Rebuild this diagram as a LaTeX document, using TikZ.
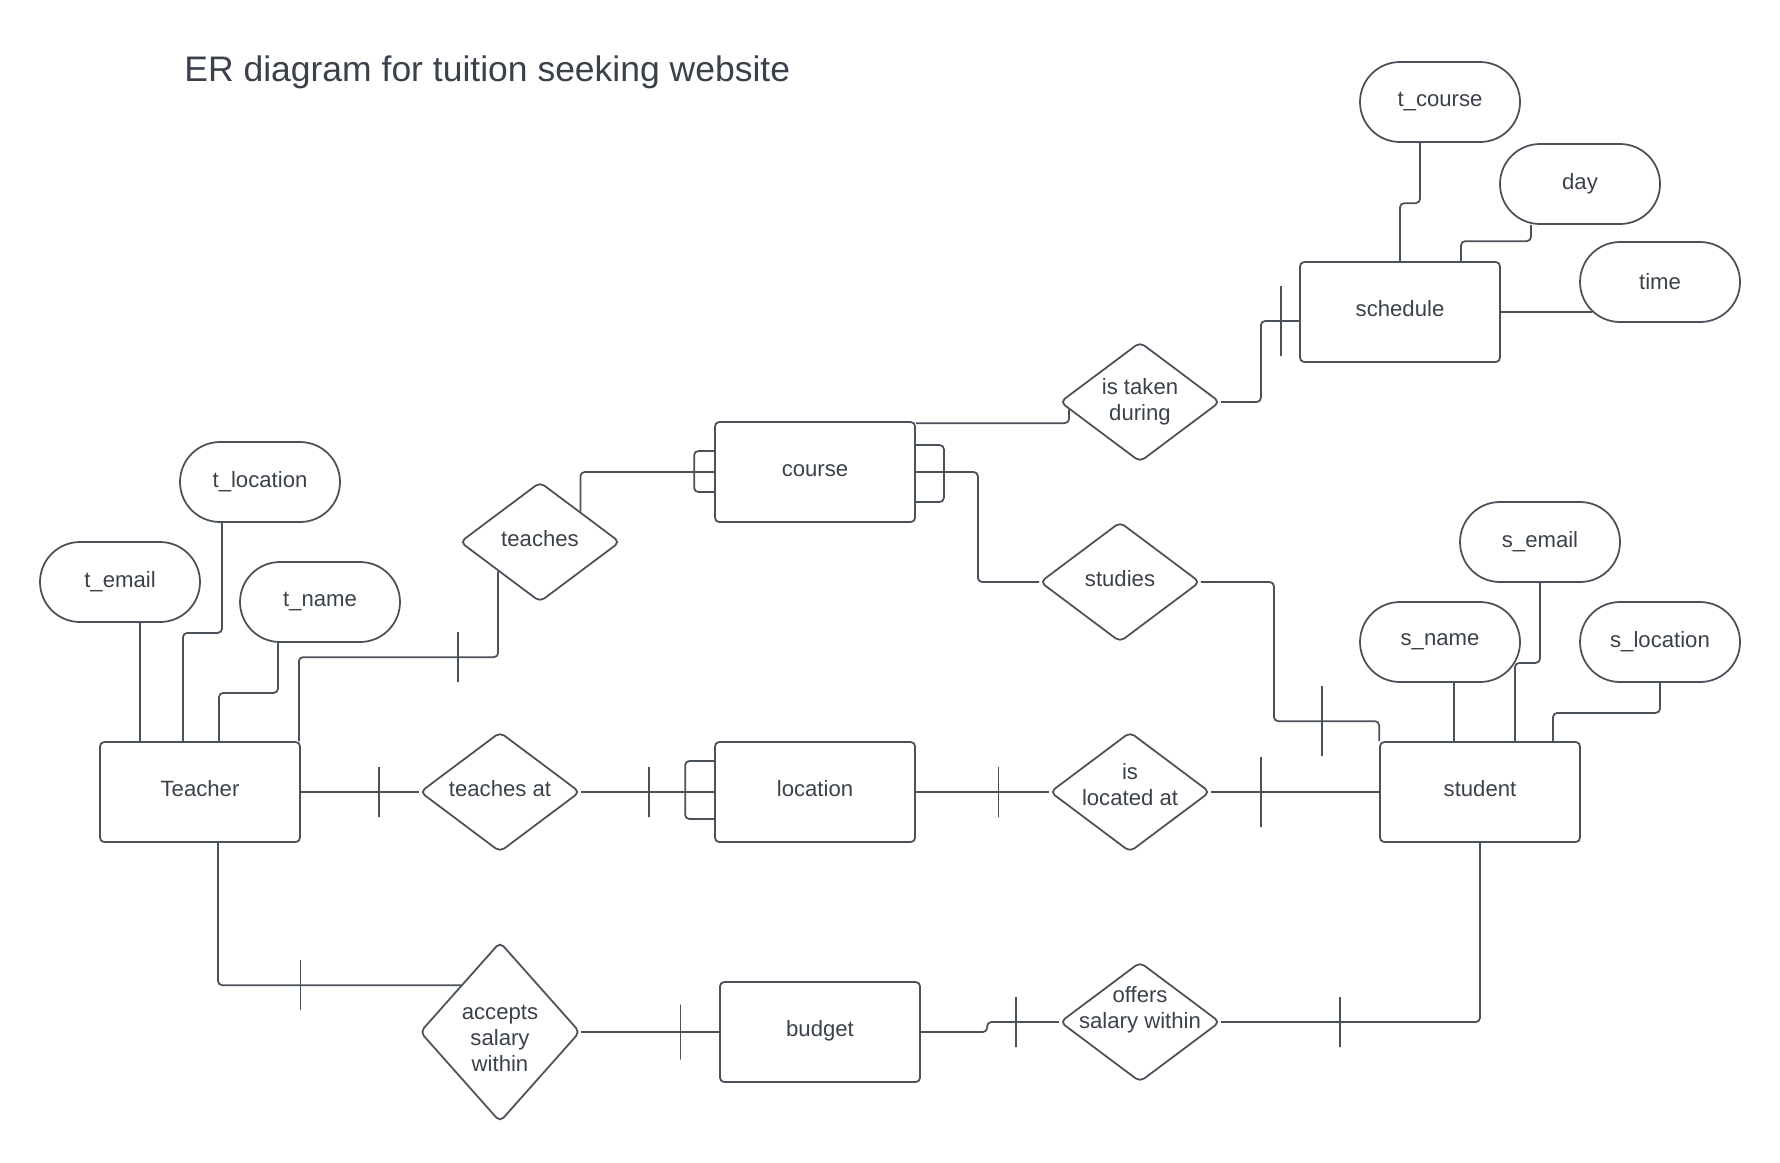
\documentclass[tikz,border=0pt]{standalone}
\usepackage{fontspec}
\setmainfont{Liberation Sans}
\usetikzlibrary{shapes.geometric,shapes.misc}
\definecolor{erink}{HTML}{3A414A}
\definecolor{erline}{HTML}{4B5159}

\begin{document}
\begin{tikzpicture}[x=0.1mm,y=-0.1mm,
	every node/.style={text=erink, font=\fontsize{6.3}{7.4}\selectfont},
	entity/.style={draw=erline, line width=0.5pt, rounded corners=1.2pt, minimum width=20mm, minimum height=10mm, inner sep=0pt, text height=4.5pt, text depth=2pt},
	attr/.style={draw=erline, line width=0.5pt, rounded rectangle, minimum width=16mm, minimum height=8mm, inner sep=0pt},
	rel/.style={draw=erline, line width=0.5pt, diamond, rounded corners=1.5pt, minimum width=16mm, minimum height=12mm, inner sep=0pt},
	lbl/.style={align=center},
	onelbl/.style={text height=4.5pt, text depth=2pt},
	conn/.style={draw=erline, line width=0.5pt, rounded corners=1.2pt},
	onemark/.style={draw=erline, line width=0.5pt, sharp corners, inner sep=0pt, outer sep=0pt, minimum width=0pt, minimum height=#1},
	onemark/.default=5mm]
	
	\useasboundingbox (0,0) rectangle (1780,1162);
	
	\node[anchor=base west, font=\fontsize{10.1}{12}\selectfont] (title) at (172,81) {ER diagram for tuition seeking website};
	
	% entities
	\node[entity] (teacher) at (200,792) {Teacher};
	\node[entity] (course) at (815,472) {course};
	\node[entity] (location) at (815,792) {location};
	\node[entity] (student) at (1480,792) {student};
	\node[entity] (schedule) at (1400,312) {schedule};
	\node[entity] (budget) at (820,1032) {budget};
	
	% attributes
	\foreach \nm/\txt/\x/\y in {tcourse/t\_course/1440/102, day/day/1580/184, time/time/1660/282,
		tlocation/t\_location/260/482, temail/t\_email/120/582, tname/t\_name/320/602,
		semail/s\_email/1540/542, sname/s\_name/1440/642, slocation/s\_location/1660/642}
	{
		\node[attr] (\nm) at (\x,\y) {\txt};
	}
	
	% relationships
	\node[rel, label={[onelbl]center:teaches}] (teaches) at (540,542) {};
	\node[rel, label={[onelbl]center:teaches at}] (teachesat) at (500,792) {};
	\node[rel, label={[lbl]center:is taken\\during}] (taken) at (1140,402) {};
	\node[rel, label={[onelbl]center:studies}] (studies) at (1120,582) {};
	\node[rel, label={[lbl,yshift=0.7mm]center:is\\located at}] (locatedat) at (1130,792) {};
	\node[rel, minimum height=18mm, label={[lbl,yshift=-0.6mm]center:accepts\\salary\\within}] (accepts) at (500,1032) {};
	\node[rel, label={[lbl,yshift=1.25mm]center:offers\\salary within}] (offers) at (1140,1022) {};
	
	\draw[conn] ([xshift=2mm]temail.south) -- ([xshift=2mm]temail.south |- teacher.north);
	\draw[conn] ([xshift=-3.8mm]tlocation.south) -- ++(0,110) -| ([xshift=-1.7mm]teacher.north);
	\draw[conn] ([xshift=-4.2mm]tname.south) -- ++(0,50) -| ([xshift=1.9mm]teacher.north);
	
	\draw[conn] ([xshift=1.4mm]sname.south) -- ([xshift=1.4mm]sname.south |- student.north);
	\draw[conn] (semail.south) -- ++(0,80) -| ([xshift=3.5mm]student.north);
	\draw[conn] (slocation.south) -- ++(0,30) -| ([xshift=7.3mm]student.north);
	
	\draw[conn] (schedule.north) -- ++(0,-58) -| ([xshift=-2mm]tcourse.south);
	\draw[conn] ([xshift=6.1mm]schedule.north) -- ++(0,-20) -| ([xshift=-4.9mm]day.south);
	\draw[conn] (schedule.east) -- (time.204);
	
	\draw[conn] ([xshift=-0.2mm]teacher.north east) -- ++(0,-84) -| node[onemark, pos=0.4]{} (teaches.215);
	\draw[conn] (teaches.37) |- (course.west);
	\draw[conn] ([yshift=2.1mm]course.west) -| ([xshift=-2mm]course.west) |- ([yshift=-2mm]course.west);
	\draw[conn] ([yshift=2.7mm]course.east) -| ([xshift=2.8mm]course.east) |- ([yshift=-3mm]course.east);
	\draw[conn] (course.east) -- ++(62,0) |- (studies.west);
	\draw[conn] ([yshift=-0.2mm]course.north east) -| (taken.186);
	\draw[conn] (taken.east) -- ++(40,0) |- node[onemark=7mm, pos=0.76]{} ([yshift=-0.9mm]schedule.west);
	\draw[conn] (studies.east) -- ++(73,0) |- node[onemark=7mm, pos=0.73]{} ([yshift=2mm]student.north west) -- (student.north west);
	
	\draw[conn] (teacher.east) -- node[onemark, pos=0.66]{} (teachesat.west);
	\draw[conn] (teachesat.east) -- node[onemark, pos=0.51]{} (location.west);
	\draw[conn] ([yshift=3.1mm]location.west) -| ([xshift=-2.9mm]location.west) |- ([yshift=-2.7mm]location.west);
	\draw[conn] (location.east) -- node[onemark, pos=0.62]{} (locatedat.west);
	\draw[conn] (locatedat.east) -- node[onemark=7mm, pos=0.3]{} (student.west);
	
	\draw[conn] ([xshift=1.8mm]teacher.south) |- node[onemark, pos=0.67]{} (accepts.130);
	\draw[conn] (accepts.east) -- node[onemark=5.5mm, pos=0.72]{} (budget.west);
	\draw[conn] (offers.west) -- node[onemark, pos=0.6]{} ++(-72,0) |- (budget.east);
	\draw[conn] (student.south) |- node[onemark, pos=0.77]{} (offers.east);
\end{tikzpicture}
\end{document}
